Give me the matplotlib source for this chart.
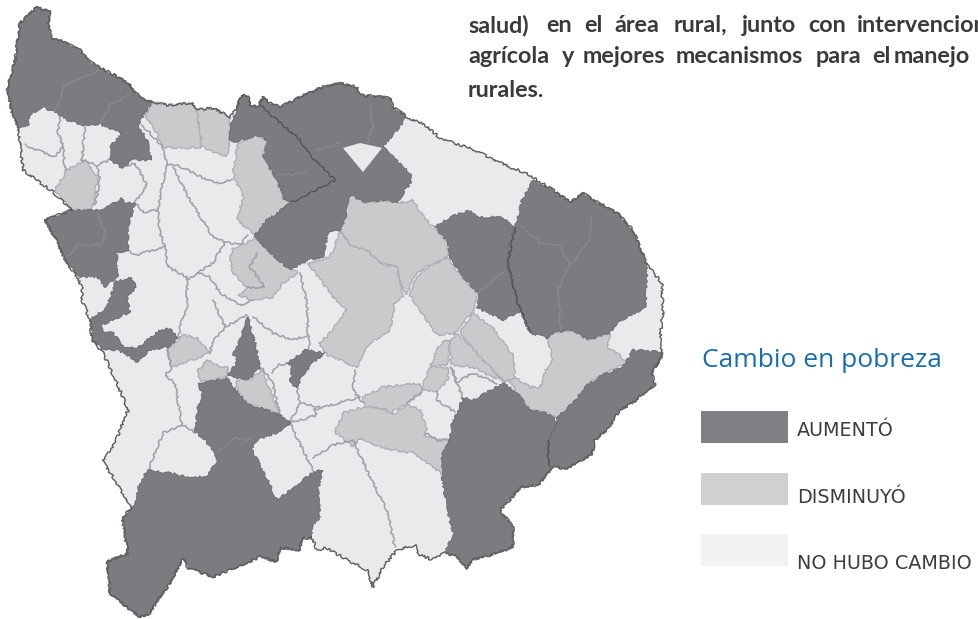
import matplotlib
matplotlib.use('Agg')
import matplotlib.pyplot as plt
from matplotlib.patches import Polygon, Rectangle

# Poverty change map. Region outlines, in picture pixels.

outline = [(37,7),(50,12),(48,25),(52,38),(65,42),(80,50),(90,62),(105,70),(120,78),(130,85),(140,98),(152,102),
    (167,105),(192,103),(197,110),(213,108),(230,117),(237,108),(241,95),(248,96),(250,105),(257,107),(263,97),(270,103),
    (280,107),(300,97),(323,87),(340,83),(357,87),(360,95),(390,98),(393,107),(407,117),(425,125),(440,138),(460,145),
    (475,150),(490,158),(510,167),(530,175),(537,180),(553,190),(570,202),(583,193),(593,200),(617,213),(633,230),(647,265),
    (662,283),(663,313),(660,340),(662,357),(652,373),(655,385),(642,395),(633,403),(620,410),(607,430),(595,440),(592,455),
    (577,462),(567,469),(553,467),(538,485),(522,487),(500,510),(513,527),(513,547),(497,553),(473,560),(466,569),(458,557),
    (445,553),(430,559),(417,553),(415,545),(397,550),(383,567),(373,587),(367,570),(347,560),(327,548),(317,550),(312,538),
    (302,538),(300,550),(280,548),(277,562),(260,557),(237,567),(213,577),(188,568),(183,558),(170,583),(148,615),(140,617),
    (127,608),(110,593),(107,562),(128,553),(122,518),(132,507),(125,497),(115,480),(103,462),(115,443),(128,410),(117,383),
    (103,353),(92,340),(90,320),(82,300),(82,287),(77,277),(65,260),(55,237),(44,220),(72,210),(53,192),(23,170),(18,127),
    (12,113),(7,90),(15,60),(20,23)]

dark_nw = [(18,127),(12,113),(7,90),(15,60),(20,23),(37,7),(50,12),(48,25),(52,38),(65,42),(80,50),(90,62),(105,70),(120,78),
    (130,85),(140,98),(152,102),(144,115),(138,125),(147,140),(152,160),(133,160),(122,168),(110,160),(110,147),(122,133),
    (115,131),(100,124),(83,125),(67,120),(55,112),(42,107),(30,115),(28,125)]
dark_north = [(230,127),(237,108),(241,95),(248,96),(250,105),(257,107),(263,97),(270,103),(280,107),(300,97),(323,87),(340,83),
    (357,87),(360,95),(390,98),(393,107),(407,117),(397,130),(383,147),(410,173),(412,182),(405,190),(398,203),(383,200),
    (367,203),(350,195),(345,220),(340,230),(328,233),(323,257),(308,260),(290,270),(267,250),(255,235),(267,220),(292,202),
    (283,198),(277,180),(263,157),(267,140),(257,135),(235,142),(230,140)]
dark_west = [(44,220),(72,210),(97,210),(107,207),(122,198),(125,203),(135,203),(128,227),(128,251),(117,252),(118,277),
    (105,287),(97,277),(78,277),(65,260),(55,237)]
dark_band = [(90,320),(107,307),(115,282),(130,277),(137,287),(127,297),(130,312),(117,318),(102,325),(102,332),(113,333),
    (125,347),(137,348),(160,330),(170,328),(179,338),(168,347),(150,350),(137,362),(127,355),(117,350),(103,350),(93,340)]
dark_south = [(147,470),(170,473),(193,478),(208,475),(217,460),(213,450),(203,438),(195,432),(198,407),(203,397),(198,383),
    (227,378),(236,390),(247,403),(280,415),(290,423),(277,433),(257,440),(252,450),(263,470),(277,500),(313,472),(323,470),
    (318,490),(320,517),(312,527),(312,538),(302,538),(300,550),(280,548),(277,562),(260,557),(237,567),(213,577),(188,568),
    (183,558),(170,583),(148,615),(140,617),(127,608),(110,593),(107,562),(128,553),(122,518),(132,507),(137,500),(138,487)]
dark_wedge = [(248,317),(257,350),(260,368),(250,378),(243,380),(228,375),(238,360),(233,355),(240,340)]
dark_small = [(288,363),(305,350),(325,353),(313,363),(303,375),(297,388),(290,382),(292,368)]
dark_centre = [(435,227),(450,217),(470,210),(477,217),(503,217),(515,228),(510,240),(507,267),(517,287),(520,312),(503,320),
    (477,308),(478,293),(463,277),(450,257),(448,243)]
dark_ne = [(515,228),(522,200),(533,180),(553,190),(570,202),(583,193),(593,200),(617,213),(633,230),(647,265),(647,287),
    (645,308),(618,322),(610,333),(588,340),(573,330),(553,333),(547,338),(530,333),(520,312),(515,290),(508,270),(508,263),
    (510,240)]
dark_se = [(463,398),(473,400),(503,383),(517,392),(530,410),(547,413),(558,422),(548,440),(548,465),(552,470),(538,485),
    (522,487),(500,510),(513,527),(513,547),(497,553),(473,560),(466,569),(458,557),(445,553),(453,533),(447,510),(442,477),
    (442,455),(450,440),(452,423),(457,413)]
dark_east = [(558,422),(557,417),(573,403),(587,385),(602,375),(623,367),(633,350),(662,352),(662,357),(652,373),(655,385),
    (642,395),(633,403),(620,410),(607,430),(595,440),(592,455),(577,462),(567,469),(553,467),(548,465),(548,440)]
dark_regions = [dark_nw, dark_north, dark_west, dark_band, dark_south, dark_wedge, dark_small, dark_centre, dark_ne, dark_se,
    dark_east]

mid_regions = [
    [(145,117),(152,102),(167,105),(192,103),(197,110),(200,132),(202,147),(187,148),(163,147),(157,133)],
    [(197,110),(213,108),(230,117),(230,140),(227,157),(202,147),(200,132)],
    [(233,173),(238,143),(257,135),(267,140),(263,157),(277,180),(283,198),(292,202),(255,235),(237,220),(243,197)],
    [(55,190),(67,170),(85,160),(98,177),(93,205),(90,210),(72,210)],
    [(230,260),(233,248),(247,243),(255,237),(267,250),(298,273),(283,283),(273,297),(253,300),(238,295),(247,288),(233,273)],
    [(350,195),(367,203),(383,200),(397,203),(412,200),(418,208),(430,225),(435,227),(448,243),(447,257),(423,268),(412,280),
     (407,295),(400,283),(397,267),(380,263),(367,250),(353,247),(340,230)],
    [(340,232),(353,247),(367,250),(380,263),(397,267),(400,283),(403,297),(395,302),(390,330),(370,343),(362,357),(357,368),
     (340,360),(327,355),(318,343),(327,337),(347,310),(333,297),(328,290),(308,263),(330,257)],
    [(447,257),(462,277),(478,293),(475,308),(463,323),(455,333),(437,335),(422,313),(410,295),(413,283),(423,270)],
    [(508,380),(515,377),(530,387),(540,387),(547,367),(553,360),(547,338),(553,333),(573,330),(588,340),(610,333),(608,348),
     (618,353),(627,363),(602,375),(587,385),(573,403),(557,417),(547,413),(530,410)],
    [(460,332),(473,313),(493,328),(513,355),(515,377),(505,382),(483,360),(465,340)],
    [(455,333),(465,340),(483,360),(505,382),(493,377),(473,367),(452,365),(450,345)],
    [(442,342),(450,340),(448,365),(430,366),(437,350)],
    [(430,367),(448,367),(448,380),(437,391),(422,391),(425,378)],
    [(363,397),(383,387),(420,383),(422,390),(408,403),(395,410),(392,413),(382,408),(365,407)],
    [(335,432),(343,413),(363,407),(382,408),(392,415),(408,405),(420,410),(427,430),(423,435),(440,440),(450,440),(442,455),
     (447,470),(445,477),(433,467),(412,453),(383,448),(360,438),(353,447)],
    [(167,350),(183,335),(197,338),(210,353),(193,360),(172,367)],
    [(207,360),(217,365),(228,368),(227,377),(200,382),(198,370)],
    [(262,370),(280,415),(247,403),(237,390),(237,380),(250,380)],
]

light_hole = [(343,148),(360,143),(382,148),(363,172),(353,160)]

thin_borders = [
    [(60,117),(58,132),(63,147),(55,157),(37,150),(25,145)],
    [(63,147),(65,170)],
    [(85,127),(83,147),(82,162)],
    [(82,160),(97,165),(110,160)],
    [(97,167),(100,180),(95,205)],
    [(122,168),(135,163),(147,185),(135,203)],
    [(135,203),(143,212),(158,210),(162,185),(167,167),(163,147),(142,125)],
    [(158,210),(160,233),(165,247),(147,252),(137,255),(128,251)],
    [(165,247),(168,267),(187,277),(187,310),(180,323),(179,337)],
    [(167,165),(177,165),(208,180),(217,183),(233,180)],
    [(173,167),(190,200),(213,237),(225,242),(240,245),(248,235)],
    [(225,242),(213,263),(198,273),(187,280)],
    [(198,273),(210,277),(220,293),(240,305),(253,300)],
    [(300,273),(307,303),(308,333),(310,350)],
    [(213,300),(225,327),(247,315)],
    [(225,327),(212,343),(210,353)],
    [(253,317),(273,333),(293,340),(308,335)],
    [(260,367),(272,380),(280,415),(290,422),(300,403),(297,388)],
    [(272,373),(278,365),(288,363)],
    [(167,350),(172,368),(165,375),(175,383),(182,425),(163,433),(148,470)],
    [(182,425),(195,432)],
    [(290,423),(303,450),(313,470)],
    [(313,458),(333,445),(353,440)],
    [(353,440),(373,483),(387,510),(395,547)],
    [(290,423),(317,415),(313,410),(360,397)],
    [(300,403),(320,407)],
    [(355,370),(353,390),(363,403)],
    [(450,367),(457,383),(463,398)],
    [(452,368),(457,382),(473,373),(497,383)],
    [(437,391),(437,400),(455,412)],
    [(422,392),(408,403)],
    [(425,433),(438,440),(450,440)],
    [(257,253),(250,267),(265,287),(247,288)],
]
dark_lines = [
    [(260,105),(300,140),(310,155),(335,180),(292,202)],
    [(515,228),(508,263),(517,300),(530,333)],
    [(548,440),(548,465)],
]
faint_lines = [
    [(55,112),(65,85),(100,70)],
    [(100,124),(110,105),(128,95)],
    [(277,175),(307,173)],
    [(317,150),(340,143)],
    [(370,105),(373,125),(367,143)],
    [(520,225),(540,243),(560,245),(570,265),(590,240),(592,215)],
    [(570,265),(558,290),(561,330)],
    [(478,293),(505,270)],
    [(97,212),(105,232),(102,245),(78,245),(65,260)],
    [(218,452),(235,438),(250,440)],
]

legend_labels = ['AUMENTÓ', 'DISMINUYÓ', 'NO HUBO CAMBIO']
legend_colors = ['#7f8083', '#cfd0d2', '#f1f2f4']
legend_tops = [411, 473, 534]
legend_baselines = [436, 503, 569]

line1_words = ['salud)', 'en', 'el', 'área', 'rural,', 'junto', 'con', 'intervencion']
line1_x = [468, 546, 584, 614, 674, 742, 808, 857]
line2_words = ['agrícola', 'y', 'mejores', 'mecanismos', 'para', 'el', 'manejo']
line2_x = [468, 562, 583, 676, 816, 872, 894]

DARK = '#7b7c80'
MID = '#c9cacc'
LIGHT = '#e9eaec'
JAG = (1.0, 9, 18)

fig = plt.figure(figsize=(9.79, 6.19), dpi=100)
ax = fig.add_axes([0, 0, 1, 1])
ax.set_xlim(0, 979)
ax.set_ylim(619, 0)
ax.axis('off')

ax.add_patch(Polygon(outline, closed=True, fc=LIGHT, ec='none', zorder=1))
for reg in mid_regions:
    p = Polygon(reg, closed=True, fc=MID, ec='#adaeb1', lw=0.9, zorder=2)
    p.set_sketch_params(*JAG)
    ax.add_patch(p)
for reg in dark_regions:
    p = Polygon(reg, closed=True, fc=DARK, ec='#6a6b6f', lw=0.6, zorder=3)
    p.set_sketch_params(*JAG)
    ax.add_patch(p)
ax.add_patch(Polygon(light_hole, closed=True, fc=LIGHT, ec='none', zorder=4))

for ln in thin_borders:
    l, = ax.plot(*zip(*ln), color='#a0a1a4', lw=1.1, zorder=2.5)
    l.set_sketch_params(*JAG)
for ln in faint_lines:
    l, = ax.plot(*zip(*ln), color='#8b8c90', lw=0.8, zorder=4)
    l.set_sketch_params(*JAG)
for ln in dark_lines:
    l, = ax.plot(*zip(*ln), color='#505154', lw=0.9, zorder=4)
    l.set_sketch_params(*JAG)

edge = Polygon(outline, closed=True, fc='none', ec='#5c5d60', lw=1.0, zorder=5)
edge.set_sketch_params(1.2, 8, 20)
ax.add_patch(edge)

# text block, cut off at the page edge like the source
for w, x in zip(line1_words, line1_x):
    ax.text(x, 32, w, family='Lato', weight='bold', fontsize=16.8, color='#3a3a3c')
for w, x in zip(line2_words, line2_x):
    ax.text(x, 63, w, family='Lato', weight='bold', fontsize=16.8, color='#3a3a3c')
ax.text(468, 97, 'rurales.', family='Lato', weight='bold', fontsize=16.8, color='#3a3a3c')

ax.text(702, 367, 'Cambio en pobreza', family='Open Sans', fontsize=19, color='#1a6dab')
for lab, col, top, base in zip(legend_labels, legend_colors, legend_tops, legend_baselines):
    ax.add_patch(Rectangle((701, top), 87, 32, fc=col, ec='none'))
    ax.text(797, base, lab, family='DejaVu Sans', fontsize=13.8, color='#3d3d3f')

fig.savefig('out.png', dpi=100)
